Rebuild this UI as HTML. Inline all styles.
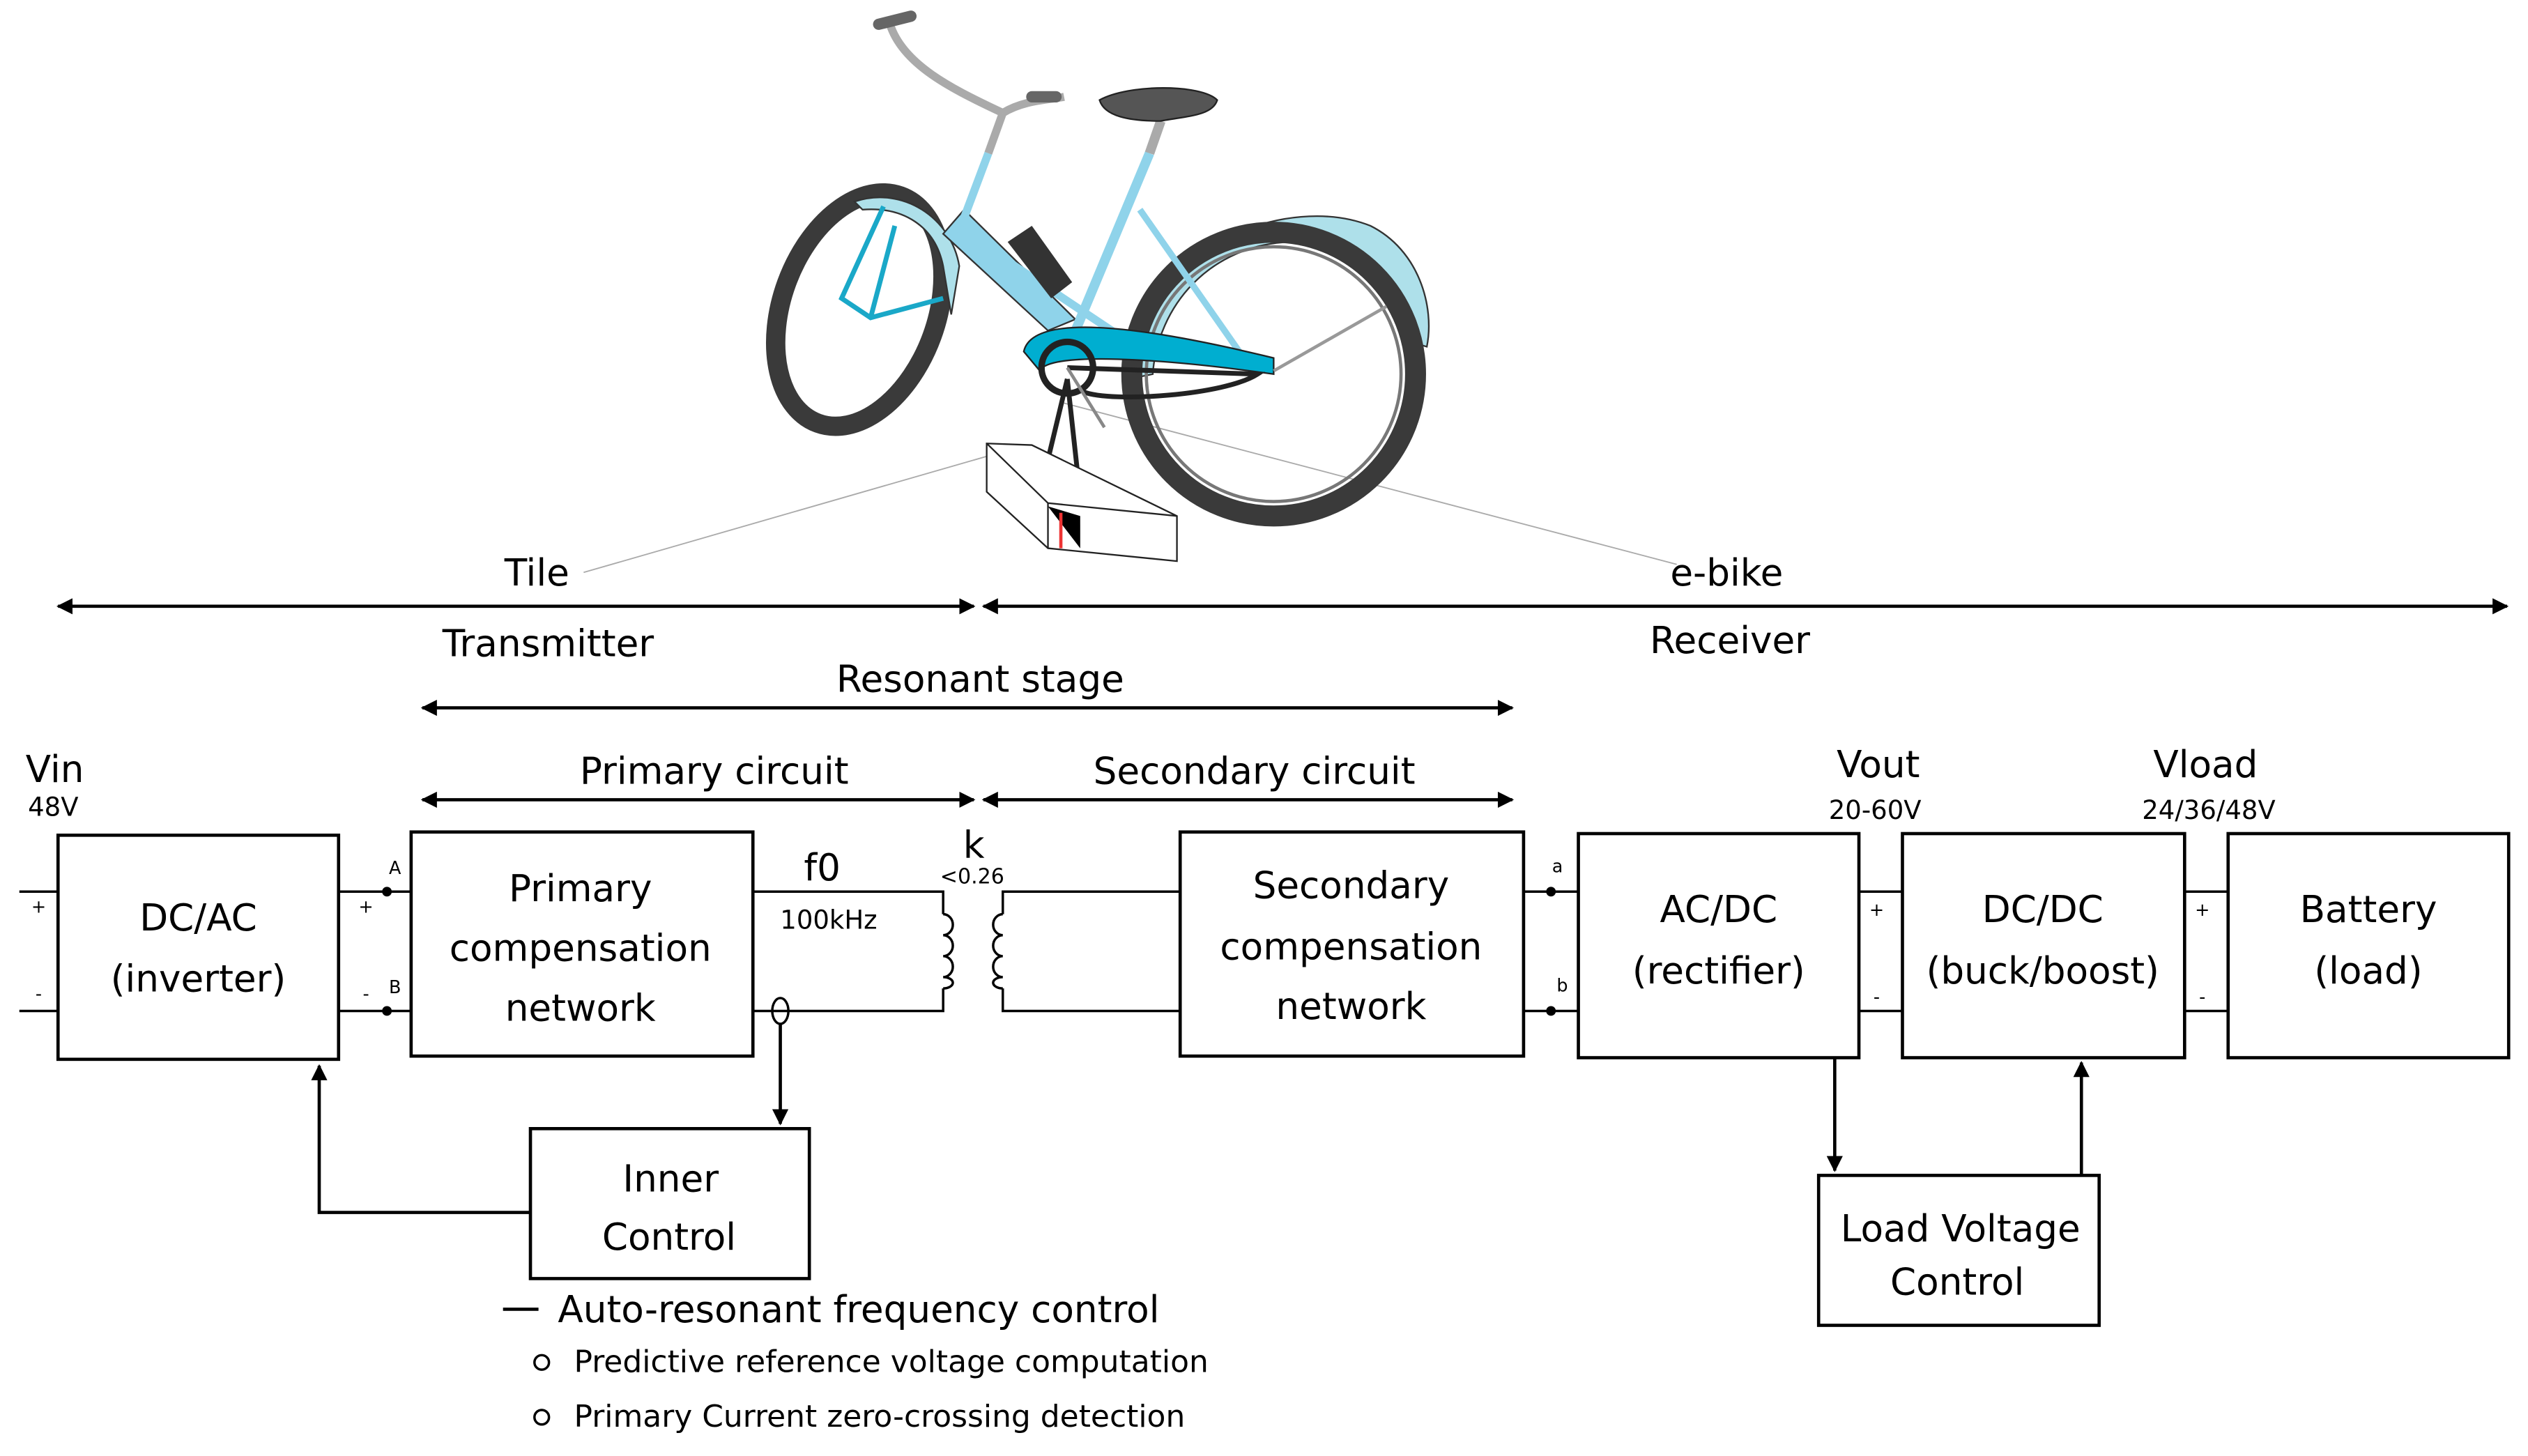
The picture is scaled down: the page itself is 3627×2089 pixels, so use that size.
<!DOCTYPE html>
<html><head><meta charset="utf-8">
<style>html,body{margin:0;padding:0;background:#fff}svg{display:block}</style>
</head><body>
<svg width="3627" height="2089" viewBox="0 0 1568 903" xmlns="http://www.w3.org/2000/svg" font-family="DejaVu Sans, Liberation Sans, sans-serif">
<defs>
<marker id="ah" markerWidth="10" markerHeight="10" refX="9" refY="5" orient="auto-start-reverse" markerUnits="userSpaceOnUse"><path d="M0,0 L10,5 L0,10 z" fill="#000"/></marker>
</defs>
<rect width="1568" height="903" fill="#fff"/>
<!-- guide lines from tile -->
<line x1="362" y1="355" x2="612" y2="283" stroke="#aaa" stroke-width="0.8"/>
<line x1="660" y1="250" x2="1040" y2="350" stroke="#aaa" stroke-width="0.8"/>
<!-- Bike -->
<g>
<!-- rear fender -->
<path d="M700,235 C710,150 800,120 850,140 C880,155 890,190 885,215 L875,212 C870,180 840,150 800,150 C750,152 718,190 715,232 Z" fill="#aee0ea" stroke="#333" stroke-width="1"/>
<!-- wheels -->
<ellipse cx="790" cy="232" rx="88" ry="88" fill="none" stroke="#3a3a3a" stroke-width="13"/>
<ellipse cx="790" cy="232" rx="79" ry="79" fill="none" stroke="#777" stroke-width="2"/>
<ellipse cx="533" cy="192" rx="48" ry="75" transform="rotate(20 533 192)" fill="none" stroke="#3a3a3a" stroke-width="12"/>
<!-- front fender -->
<path d="M530,125 C560,115 590,135 595,165 L590,195 L585,165 C580,140 560,128 535,130 Z" fill="#aee0ea" stroke="#333" stroke-width="1"/>
<!-- frame -->
<path d="M585,145 L650,205 L667,198 L598,130 Z" fill="#8fd3ea" stroke="#333" stroke-width="1"/>
<line x1="595" y1="142" x2="700" y2="212" stroke="#8fd3ea" stroke-width="5"/>
<line x1="665" y1="210" x2="713" y2="95" stroke="#8fd3ea" stroke-width="6"/>
<line x1="713" y1="95" x2="720" y2="75" stroke="#aaa" stroke-width="6"/>
<line x1="707" y1="130" x2="770" y2="220" stroke="#8fd3ea" stroke-width="4"/>
<line x1="598" y1="135" x2="613" y2="95" stroke="#8fd3ea" stroke-width="5"/>
<line x1="613" y1="95" x2="622" y2="70" stroke="#aaa" stroke-width="5"/>
<!-- battery -->
<path d="M625,150 L640,140 L665,175 L652,185 Z" fill="#333"/>
<!-- handlebar -->
<path d="M622,70 C590,55 560,40 552,15 M622,70 C635,62 650,62 660,60" fill="none" stroke="#aaa" stroke-width="5"/>
<line x1="545" y1="15" x2="565" y2="10" stroke="#666" stroke-width="7" stroke-linecap="round"/>
<line x1="640" y1="60" x2="655" y2="60" stroke="#666" stroke-width="7" stroke-linecap="round"/>
<!-- saddle -->
<path d="M682,62 C700,52 745,52 755,62 C752,72 735,72 720,75 C700,75 685,72 682,62 Z" fill="#555" stroke="#222"/>
<!-- fork -->
<path d="M548,128 L522,185 L540,197 L585,185 M555,140 L540,197" fill="none" stroke="#1aa8c8" stroke-width="3"/>
<!-- chainguard -->
<path d="M635,218 C640,195 700,200 790,222 L790,232 C720,222 650,218 645,230 Z" fill="#00aed0" stroke="#222"/>
<circle cx="662" cy="228" r="16" fill="none" stroke="#222" stroke-width="4"/>
<path d="M662,228 L780,232 C760,245 690,250 672,243" fill="none" stroke="#222" stroke-width="3"/>
<line x1="790" y1="230" x2="860" y2="190" stroke="#999" stroke-width="2"/>
<line x1="662" y1="228" x2="685" y2="265" stroke="#888" stroke-width="2"/>
<path d="M662,235 L650,285 M662,235 L668,290" stroke="#222" stroke-width="3"/>
<!-- tile -->
<path d="M612,275 L640,276 L730,320 L730,348 L650,340 L612,305 Z" fill="#fff" stroke="#222" stroke-width="1"/>
<path d="M612,275 L650,312 L730,320 M650,312 L650,340" fill="none" stroke="#222" stroke-width="1"/>
<path d="M650,314 L670,340 L670,320 Z" fill="#000"/>
<line x1="658" y1="318" x2="658" y2="340" stroke="#e33" stroke-width="2"/>
</g>
<!-- Arrows top -->
<g stroke="#000" stroke-width="2" fill="none">
<line x1="36" y1="376" x2="604" y2="376" marker-start="url(#ah)" marker-end="url(#ah)"/>
<line x1="610" y1="376" x2="1555" y2="376" marker-start="url(#ah)" marker-end="url(#ah)"/>
<line x1="262" y1="439" x2="938" y2="439" marker-start="url(#ah)" marker-end="url(#ah)"/>
<line x1="262" y1="496" x2="604" y2="496" marker-start="url(#ah)" marker-end="url(#ah)"/>
<line x1="610" y1="496" x2="938" y2="496" marker-start="url(#ah)" marker-end="url(#ah)"/>
</g>
<g font-size="23" fill="#000" text-anchor="middle">
<text x="333" y="363">Tile</text>
<text x="1071" y="363">e-bike</text>
<text x="340" y="407">Transmitter</text>
<text x="1073" y="405">Receiver</text>
<text x="608" y="429">Resonant stage</text>
<text x="443" y="486">Primary circuit</text>
<text x="778" y="486">Secondary circuit</text>
</g>
<!-- boxes -->
<g fill="#fff" stroke="#000" stroke-width="2">
<rect x="36" y="518" width="174" height="139"/>
<rect x="255" y="516" width="212" height="139"/>
<rect x="732" y="516" width="213" height="139"/>
<rect x="979" y="517" width="174" height="139"/>
<rect x="1180" y="517" width="175" height="139"/>
<rect x="1382" y="517" width="174" height="139"/>
<rect x="329" y="700" width="173" height="93"/>
<rect x="1128" y="729" width="174" height="93"/>
</g>
<!-- wires -->
<g stroke="#000" stroke-width="1.5" fill="none">
<line x1="12" y1="553" x2="36" y2="553"/><line x1="12" y1="627" x2="36" y2="627"/>
<line x1="210" y1="553" x2="255" y2="553"/><line x1="210" y1="627" x2="255" y2="627"/>
<polyline points="467,553 585,553 585,567"/>
<polyline points="467,627 585,627 585,613"/>
<path d="M585,567 a6,6.5 0 0 1 0,13 a6,6.5 0 0 1 0,13 a6,6.5 0 0 1 0,13 a6,3.5 0 0 1 0,7"/>
<path d="M622,567 a6,6.5 0 0 0 0,13 a6,6.5 0 0 0 0,13 a6,6.5 0 0 0 0,13 a6,3.5 0 0 0 0,7"/>
<polyline points="622,567 622,553 732,553"/>
<polyline points="622,613 622,627 732,627"/>
<line x1="945" y1="553" x2="979" y2="553"/><line x1="945" y1="627" x2="979" y2="627"/>
<line x1="1153" y1="553" x2="1180" y2="553"/><line x1="1153" y1="627" x2="1180" y2="627"/>
<line x1="1355" y1="553" x2="1382" y2="553"/><line x1="1355" y1="627" x2="1382" y2="627"/>
<ellipse cx="484" cy="627" rx="5" ry="8"/>
</g>
<g stroke="#000" stroke-width="2" fill="none">
<line x1="484" y1="635" x2="484" y2="697" marker-end="url(#ah)"/>
<polyline points="329,752 198,752 198,661" marker-end="url(#ah)"/>
<line x1="1138" y1="656" x2="1138" y2="726" marker-end="url(#ah)"/>
<line x1="1291" y1="729" x2="1291" y2="659" marker-end="url(#ah)"/>
<line x1="312" y1="812" x2="334" y2="812"/>
</g>
<g fill="#000">
<circle cx="240" cy="553" r="3"/><circle cx="240" cy="627" r="3"/>
<circle cx="962" cy="553" r="3"/><circle cx="962" cy="627" r="3"/>
</g>
<g fill="none" stroke="#000" stroke-width="1.5">
<circle cx="336" cy="845" r="4.5"/><circle cx="336" cy="879" r="4.5"/>
</g>
<!-- texts -->
<g font-size="23" fill="#000" text-anchor="middle">
<text x="123" y="577">DC/AC</text><text x="123" y="615">(inverter)</text>
<text x="360" y="559">Primary</text><text x="360" y="596">compensation</text><text x="360" y="633">network</text>
<text x="838" y="557">Secondary</text><text x="838" y="595">compensation</text><text x="838" y="632">network</text>
<text x="1066" y="572">AC/DC</text><text x="1066" y="610">(rectifier)</text>
<text x="1267" y="572">DC/DC</text><text x="1267" y="610">(buck/boost)</text>
<text x="1469" y="572">Battery</text><text x="1469" y="610">(load)</text>
<text x="416" y="739">Inner</text><text x="415" y="775">Control</text>
<text x="1216" y="770">Load Voltage</text><text x="1214" y="803">Control</text>
<text x="34" y="485">Vin</text>
<text x="1165" y="482">Vout</text>
<text x="1368" y="482">Vload</text>
<text x="510" y="546">f0</text>
<text x="604" y="532">k</text>
</g>
<g font-size="16" fill="#000" text-anchor="middle">
<text x="33" y="506">48V</text>
<text x="1163" y="508">20-60V</text>
<text x="1370" y="508">24/36/48V</text>
<text x="514" y="576">100kHz</text>
<text x="603" y="548" font-size="13">&lt;0.26</text>
</g>
<g font-size="11" fill="#000" text-anchor="middle">
<text x="245" y="542">A</text><text x="245" y="616">B</text>
<text x="966" y="541">a</text><text x="969" y="615">b</text>
<text x="24" y="566">+</text><text x="24" y="620">-</text>
<text x="227" y="566">+</text><text x="227" y="620">-</text>
<text x="1164" y="568">+</text><text x="1164" y="622">-</text>
<text x="1366" y="568">+</text><text x="1366" y="622">-</text>
</g>
<g font-size="23" fill="#000">
<text x="346" y="820">Auto-resonant frequency control</text>
</g>
<g font-size="19" fill="#000">
<text x="356" y="851">Predictive reference voltage computation</text>
<text x="356" y="885">Primary Current zero-crossing detection</text>
</g>
</svg>
</body></html>
